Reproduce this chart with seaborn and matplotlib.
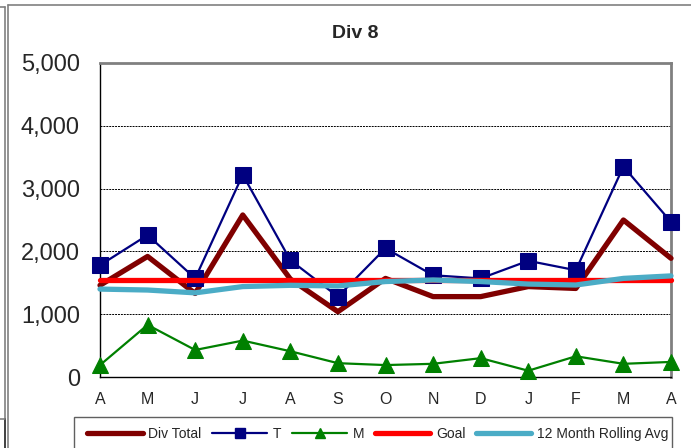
import pandas as pd
import seaborn as sns
import matplotlib.pyplot as plt
from matplotlib.lines import Line2D
from matplotlib.patches import Rectangle
from matplotlib.ticker import FuncFormatter

# Monthly figures, April through the following April
months = ["A", "M", "J", "J", "A", "S", "O", "N", "D", "J", "F", "M", "A"]
div_total = [1460, 1920, 1330, 2580, 1560, 1040, 1570, 1280, 1280, 1440, 1410, 2500, 1890]
t_vals = [1780, 2260, 1570, 3220, 1860, 1280, 2050, 1620, 1570, 1850, 1700, 3350, 2470]
m_vals = [190, 830, 430, 580, 410, 220, 190, 210, 300, 100, 330, 210, 240]
goal = [1550, 1550, 1550, 1550, 1550, 1550, 1550, 1550, 1550, 1550, 1550, 1550, 1550]
rolling_avg = [1400, 1385, 1340, 1440, 1460, 1450, 1520, 1545, 1520, 1480, 1465, 1570, 1610]

series_names = ["Div Total", "T", "M", "Goal", "12 Month Rolling Avg"]
series_values = [div_total, t_vals, m_vals, goal, rolling_avg]

sns.set_style("white")
plt.rcParams["font.family"] = ["Liberation Sans", "DejaVu Sans"]

frames = []
for name, vals in zip(series_names, series_values):
    frames.append(pd.DataFrame({"idx": range(len(months)), "value": vals, "series": name}))
df = pd.concat(frames, ignore_index=True)

styles = {
    "Div Total": dict(color="#800000", lw=3.8, marker=None, ms=0),
    "T": dict(color="#000080", lw=1.6, marker="s", ms=11),
    "M": dict(color="#008000", lw=1.6, marker="^", ms=11),
    "Goal": dict(color="#FF0000", lw=3.8, marker=None, ms=0),
    "12 Month Rolling Avg": dict(color="#4BACC6", lw=3.8, marker=None, ms=0),
}

fig = plt.figure(figsize=(6.91, 4.48), dpi=100)
ax = fig.add_axes([100 / 691, 1 - 377 / 448, 571 / 691, 314 / 448])

for z, name in enumerate(series_names):
    st = styles[name]
    sub = df[df["series"] == name]
    kw = dict(color=st["color"], linewidth=st["lw"], ax=ax, legend=False,
              zorder=3 + z, clip_on=False)
    if st["marker"]:
        kw.update(marker=st["marker"], markersize=st["ms"],
                  markeredgecolor=st["color"], markerfacecolor=st["color"])
    sns.lineplot(data=sub, x="idx", y="value", **kw)

ax.set_xlim(0, 12)
ax.set_ylim(0, 5000)
ax.set_xticks(range(len(months)))
ax.set_xticklabels(months)
ax.set_yticks([0, 1000, 2000, 3000, 4000, 5000])
ax.yaxis.set_major_formatter(FuncFormatter(lambda v, p: f"{v:,.0f}"))
ax.set_xlabel("")
ax.set_ylabel("")

for yv in [1000, 2000, 3000, 4000]:
    ax.axhline(yv, color="black", lw=0.7, ls=(0, (2, 1)), zorder=1)

for side in ["left", "bottom"]:
    ax.spines[side].set_color("black")
    ax.spines[side].set_linewidth(1.0)
for side in ["top", "right"]:
    ax.spines[side].set_color("#808080")
    ax.spines[side].set_linewidth(2.0)

ax.tick_params(axis="y", direction="out", length=5, width=1, color="black",
               labelsize=17, pad=9.5)
ax.tick_params(axis="x", direction="out", length=5, width=1, color="black",
               labelsize=11.5, pad=6)

fig.text(355 / 691, 1 - 33 / 448, "Div 8", ha="center", va="center",
         fontsize=14, fontweight="bold")

# Legend with an outlined box running off the lower edge
handles = []
for name in series_names:
    st = styles[name]
    handles.append(Line2D([], [], color=st["color"], lw=st["lw"],
                          marker=st["marker"], markersize=st["ms"] * 0.7))
leg = fig.legend(handles, series_names, loc="center left",
                 bbox_to_anchor=(87 / 691, 1 - 434 / 448), ncol=5, frameon=False,
                 fontsize=10, handlelength=4.0, handletextpad=0.4,
                 columnspacing=0.75, borderaxespad=0, borderpad=0)
fig.add_artist(Rectangle((74 / 691, -0.05), 598 / 691, 0.05 + (448 - 417) / 448,
                         transform=fig.transFigure, fill=False,
                         edgecolor="#606060", lw=1))

# Surrounding chart-area borders
gray = "#808080"
fig.add_artist(Line2D([7.5 / 691, 7.5 / 691], [0, 1 - 5.5 / 448],
                      transform=fig.transFigure, color=gray, lw=1.2))
fig.add_artist(Line2D([7.5 / 691, 1], [1 - 5.5 / 448, 1 - 5.5 / 448],
                      transform=fig.transFigure, color=gray, lw=1.2))
fig.add_artist(Line2D([4.5 / 691, 4.5 / 691], [1 - 419 / 448, 1 - 7 / 448],
                      transform=fig.transFigure, color=gray, lw=1.2))
fig.add_artist(Line2D([4.5 / 691, 4.5 / 691], [0, 1 - 419 / 448],
                      transform=fig.transFigure, color="#202020", lw=1.2))
fig.add_artist(Line2D([0, 4.5 / 691], [1 - 7 / 448, 1 - 7 / 448],
                      transform=fig.transFigure, color=gray, lw=1.2))
fig.add_artist(Line2D([0, 4.5 / 691], [1 - 419 / 448, 1 - 419 / 448],
                      transform=fig.transFigure, color=gray, lw=1.2))

fig.savefig("out.png", dpi=100)
